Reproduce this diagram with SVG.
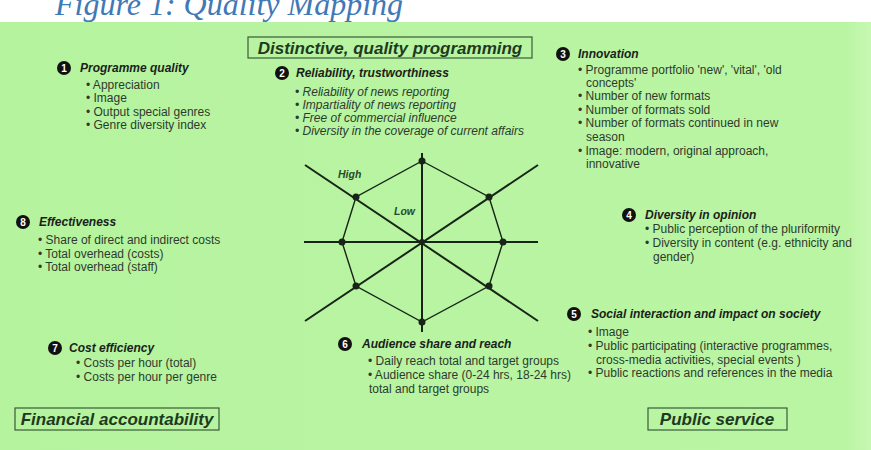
<svg xmlns="http://www.w3.org/2000/svg" width="871" height="450" viewBox="0 0 871 450">
<defs>
<linearGradient id="bg" x1="0" y1="0" x2="1" y2="0">
<stop offset="0" stop-color="#b6f39f"/>
<stop offset="0.97" stop-color="#baf5a3"/>
<stop offset="1" stop-color="#c6f8b2"/>
</linearGradient>
<style>
.t{font-family:"Liberation Sans",Arial,sans-serif;font-size:12px;fill:#2e3a2e}
.it{font-style:italic}
.h{font-family:"Liberation Sans",Arial,sans-serif;font-size:12px;font-weight:bold;font-style:italic;fill:#1a1f1a}
.box{fill:none;stroke:#3a5a3a;stroke-width:1.2}
.bl{font-family:"Liberation Sans",Arial,sans-serif;font-size:17px;font-weight:bold;font-style:italic;fill:#1e3a1e}
.num{fill:#111}
.nt{font-family:"Liberation Sans",Arial,sans-serif;font-size:10px;font-weight:bold;fill:#fff;text-anchor:middle}
.ax{stroke:#172417;stroke-width:2;fill:none}
.oc{stroke:#172417;stroke-width:1.4;fill:none}
.dot{fill:#172417}
.lab{font-family:"Liberation Sans",Arial,sans-serif;font-size:10.5px;font-weight:bold;font-style:italic;fill:#2a4a2a}
</style>
</defs>
<rect x="0" y="0" width="871" height="450" fill="#ffffff"/>
<rect x="0" y="22" width="871" height="428" fill="url(#bg)"/>
<text x="55" y="15" font-family="Liberation Serif,'Times New Roman',serif" font-size="32" font-style="italic" fill="#3f79b6">Figure 1: Quality Mapping</text>

<g id="box-distinctive">
<rect class="box" x="248" y="37" width="284" height="21"/>
<text class="bl" x="390" y="53.5" text-anchor="middle">Distinctive, quality programming</text>
</g>
<g id="box-financial">
<rect class="box" x="15" y="408" width="204" height="22"/>
<text class="bl" x="117" y="425" text-anchor="middle">Financial accountability</text>
</g>
<g id="box-public">
<rect class="box" x="648" y="408" width="139" height="22"/>
<text class="bl" x="717" y="425" text-anchor="middle">Public service</text>
</g>

<g id="connectors">
<line class="ax" x1="422" y1="153" x2="422" y2="332"/>
<line class="ax" x1="304" y1="242" x2="538" y2="242"/>
<line class="ax" x1="305" y1="165" x2="538" y2="321"/>
<line class="ax" x1="305" y1="321" x2="538" y2="165"/>
<polygon class="oc" points="422,161 489,197 503,242 489,286 422,322 356,286 342,242 356,197"/>
<g class="dot">
<circle cx="422" cy="161" r="3.5"/><circle cx="489" cy="197" r="3.5"/><circle cx="503" cy="242" r="3.5"/><circle cx="489" cy="286" r="3.5"/>
<circle cx="422" cy="322" r="3.5"/><circle cx="356" cy="286" r="3.5"/><circle cx="342" cy="242" r="3.5"/><circle cx="356" cy="197" r="3.5"/>
<circle cx="422" cy="242" r="3"/>
</g>
<text class="lab" x="338" y="178">High</text>
<text class="lab" x="394" y="215">Low</text>
</g>

<g id="n1">
<circle class="num" cx="64" cy="68" r="7"/><text class="nt" x="64" y="71.5">1</text>
<text class="h" x="80" y="72">Programme quality</text>
<text class="t" x="86" y="89">• Appreciation</text>
<text class="t" x="86" y="102">• Image</text>
<text class="t" x="86" y="116">• Output special genres</text>
<text class="t" x="86" y="129">• Genre diversity index</text>
</g>

<g id="n2">
<circle class="num" cx="282" cy="73" r="7"/><text class="nt" x="282" y="76.5">2</text>
<text class="h" x="296" y="77">Reliability, trustworthiness</text>
<text class="t it" x="295" y="96">• Reliability of news reporting</text>
<text class="t it" x="295" y="109">• Impartiality of news reporting</text>
<text class="t it" x="295" y="122">• Free of commercial influence</text>
<text class="t it" x="295" y="135">• Diversity in the coverage of current affairs</text>
</g>

<g id="n3">
<circle class="num" cx="563" cy="54" r="7"/><text class="nt" x="563" y="57.5">3</text>
<text class="h" x="578" y="58">Innovation</text>
<text class="t" x="578" y="74">• Programme portfolio 'new', 'vital', 'old</text>
<text class="t" x="586" y="87">concepts'</text>
<text class="t" x="578" y="100">• Number of new formats</text>
<text class="t" x="578" y="114">• Number of formats sold</text>
<text class="t" x="578" y="127">• Number of formats continued in new</text>
<text class="t" x="586" y="141">season</text>
<text class="t" x="578" y="155">• Image: modern, original approach,</text>
<text class="t" x="586" y="168">innovative</text>
</g>

<g id="n4">
<circle class="num" cx="629" cy="215" r="7"/><text class="nt" x="629" y="218.5">4</text>
<text class="h" x="645" y="219">Diversity in opinion</text>
<text class="t" x="645" y="233">• Public perception of the pluriformity</text>
<text class="t" x="645" y="247">• Diversity in content (e.g. ethnicity and</text>
<text class="t" x="653" y="261">gender)</text>
</g>

<g id="n5">
<circle class="num" cx="574" cy="314" r="7"/><text class="nt" x="574" y="317.5">5</text>
<text class="h" x="591" y="318">Social interaction and impact on society</text>
<text class="t" x="588" y="336">• Image</text>
<text class="t" x="588" y="350">• Public participating (interactive programmes,</text>
<text class="t" x="596" y="364">cross-media activities, special events )</text>
<text class="t" x="588" y="377">• Public reactions and references in the media</text>
</g>

<g id="n6">
<circle class="num" cx="345" cy="344" r="7"/><text class="nt" x="345" y="347.5">6</text>
<text class="h" x="362" y="348">Audience share and reach</text>
<text class="t" x="368" y="365">• Daily reach total and target groups</text>
<text class="t" x="368" y="379">• Audience share (0-24 hrs, 18-24 hrs)</text>
<text class="t" x="369" y="393">total and target groups</text>
</g>

<g id="n7">
<circle class="num" cx="55" cy="348" r="7"/><text class="nt" x="55" y="351.5">7</text>
<text class="h" x="69" y="352">Cost efficiency</text>
<text class="t" x="76" y="367">• Costs per hour (total)</text>
<text class="t" x="76" y="381">• Costs per hour per genre</text>
</g>

<g id="n8">
<circle class="num" cx="23" cy="222" r="7"/><text class="nt" x="23" y="225.5">8</text>
<text class="h" x="39" y="226">Effectiveness</text>
<text class="t" x="38" y="244">• Share of direct and indirect costs</text>
<text class="t" x="38" y="258">• Total overhead (costs)</text>
<text class="t" x="38" y="271">• Total overhead (staff)</text>
</g>
</svg>
